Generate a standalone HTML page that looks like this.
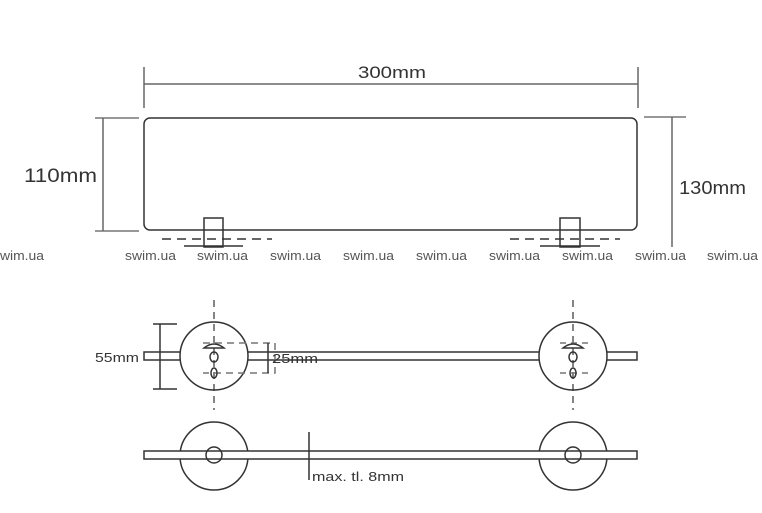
<!DOCTYPE html>
<html><head><meta charset="utf-8"><style>
html,body{margin:0;padding:0;background:#fff;width:762px;height:513px;overflow:hidden}
svg{display:block}
text{font-family:"Liberation Sans",sans-serif;fill:#333}
</style></head><body>
<svg width="762" height="513" viewBox="0 0 762 513" xmlns="http://www.w3.org/2000/svg">
<g fill="none" stroke="#333" stroke-width="1.5">
<rect x="144" y="118" width="493" height="112" rx="6"/>
<line x1="144" y1="67" x2="144" y2="108" stroke="#666"/>
<line x1="638" y1="67" x2="638" y2="108" stroke="#666"/>
<line x1="144" y1="84" x2="638" y2="84" stroke="#666"/>
<line x1="95" y1="118" x2="139" y2="118" stroke="#777"/>
<line x1="95" y1="231" x2="139" y2="231" stroke="#777"/>
<line x1="103" y1="118" x2="103" y2="231" stroke="#666"/>
<line x1="644" y1="117" x2="686" y2="117" stroke="#777"/>
<line x1="672" y1="117" x2="672" y2="247" stroke="#666"/>
<rect x="204" y="218" width="19" height="29"/>
<rect x="560" y="218" width="20" height="29"/>
<line x1="162" y1="239" x2="272" y2="239" stroke-dasharray="9,6"/>
<line x1="510" y1="239" x2="620" y2="239" stroke-dasharray="9,6"/>
<line x1="184" y1="246" x2="243" y2="246"/>
<line x1="540" y1="246" x2="600" y2="246"/>
<rect x="144" y="352" width="493" height="8" fill="#fff"/>
<circle cx="214" cy="356" r="34" fill="#fff"/>
<circle cx="573" cy="356" r="34" fill="#fff"/>
<line x1="214" y1="300" x2="214" y2="410" stroke-dasharray="7,5" stroke-width="1.2"/>
<line x1="573" y1="300" x2="573" y2="410" stroke-dasharray="7,5" stroke-width="1.2"/>
<path d="M203 343 H275 V373 H203" stroke="#777" stroke-dasharray="7,5"/>
<path d="M560 343 H593 M560 373 H593" stroke="#777" stroke-dasharray="6,5"/>
<line x1="268" y1="343" x2="268" y2="373"/>
<path d="M204 348 q10 -8 20 0 z M563 348 q10 -8 20 0 z" fill="#fff"/>
<ellipse cx="214" cy="357" rx="4" ry="5"/>
<ellipse cx="214" cy="373" rx="3" ry="5"/>
<ellipse cx="573" cy="357" rx="4" ry="5"/>
<ellipse cx="573" cy="373" rx="3" ry="5"/>
<line x1="153" y1="324" x2="177" y2="324"/>
<line x1="153" y1="389" x2="177" y2="389"/>
<line x1="160" y1="324" x2="160" y2="389"/>
<circle cx="214" cy="456" r="34"/>
<circle cx="573" cy="456" r="34"/>
<rect x="144" y="451" width="493" height="8" fill="#fff"/>
<circle cx="214" cy="455" r="8"/>
<circle cx="573" cy="455" r="8"/>
<line x1="309" y1="432" x2="309" y2="480"/>
</g>
<text x="358" y="78" font-size="17" textLength="68" lengthAdjust="spacingAndGlyphs">300mm</text>
<text x="24" y="182" font-size="19" textLength="73" lengthAdjust="spacingAndGlyphs">110mm</text>
<text x="679" y="194" font-size="18" textLength="67" lengthAdjust="spacingAndGlyphs">130mm</text>
<text x="95" y="362" font-size="13" textLength="44" lengthAdjust="spacingAndGlyphs">55mm</text>
<text x="272" y="363" font-size="13" textLength="46" lengthAdjust="spacingAndGlyphs">25mm</text>
<text x="312" y="481" font-size="13" textLength="92" lengthAdjust="spacingAndGlyphs">max. tl. 8mm</text>
<g font-size="13">
<text x="-7" y="260" style="fill:#555" textLength="51" lengthAdjust="spacingAndGlyphs">swim.ua</text>
<text x="125" y="260" style="fill:#555" textLength="51" lengthAdjust="spacingAndGlyphs">swim.ua</text>
<text x="197" y="260" style="fill:#555" textLength="51" lengthAdjust="spacingAndGlyphs">swim.ua</text>
<text x="270" y="260" style="fill:#555" textLength="51" lengthAdjust="spacingAndGlyphs">swim.ua</text>
<text x="343" y="260" style="fill:#555" textLength="51" lengthAdjust="spacingAndGlyphs">swim.ua</text>
<text x="416" y="260" style="fill:#555" textLength="51" lengthAdjust="spacingAndGlyphs">swim.ua</text>
<text x="489" y="260" style="fill:#555" textLength="51" lengthAdjust="spacingAndGlyphs">swim.ua</text>
<text x="562" y="260" style="fill:#555" textLength="51" lengthAdjust="spacingAndGlyphs">swim.ua</text>
<text x="635" y="260" style="fill:#555" textLength="51" lengthAdjust="spacingAndGlyphs">swim.ua</text>
<text x="707" y="260" style="fill:#555" textLength="51" lengthAdjust="spacingAndGlyphs">swim.ua</text>
</g>
</svg>
</body></html>
